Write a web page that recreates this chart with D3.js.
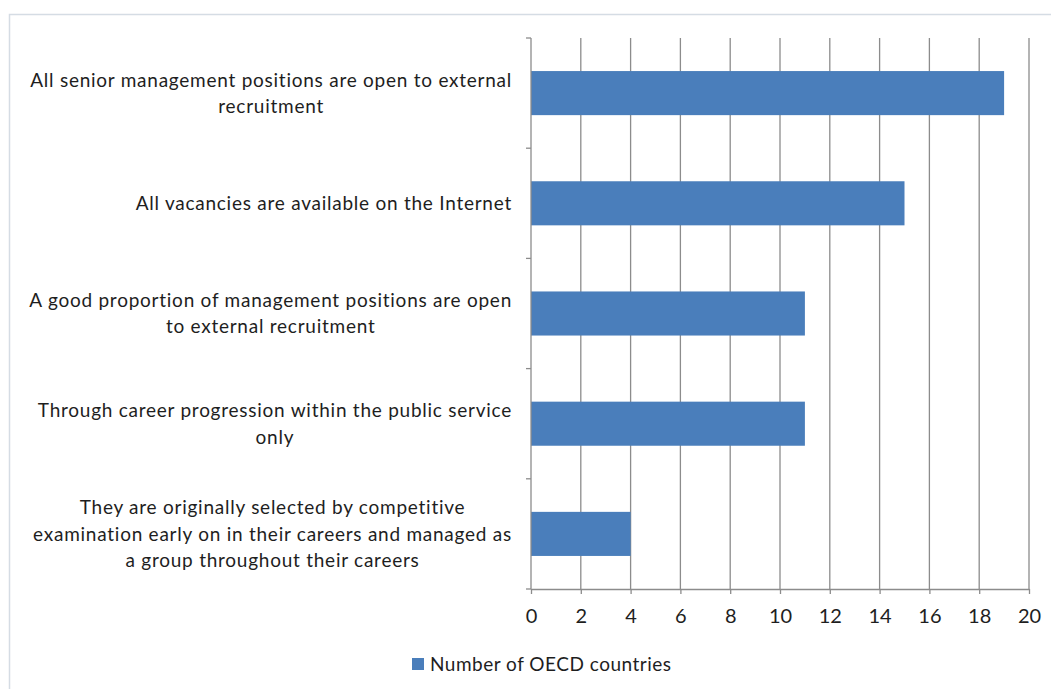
<!DOCTYPE html>
<html>
<head>
<meta charset="utf-8">
<script src="https://cdn.jsdelivr.net/npm/d3@7"></script>
<style>
  html, body { margin: 0; padding: 0; background: #fff; }
  svg { display: block; }
  text { font-family: Lato, "Open Sans", sans-serif; fill: #1e1e1e; }
</style>
</head>
<body>
<svg id="chart" width="1051" height="689"></svg>
<script>
// Ways into senior management, count of OECD countries
const categories = [
  ["All senior management positions are open to external", "recruitment"],
  ["All vacancies are available on the Internet"],
  ["A good proportion of management positions are open", "to external recruitment"],
  ["Through career progression within the public service", "only"],
  ["They are originally selected by competitive", "examination early on in their careers and managed as", "a group throughout their careers"]
];
const values = [19, 15, 11, 11, 4];
const xTicks = [0, 2, 4, 6, 8, 10, 12, 14, 16, 18, 20];
const seriesName = "Number of OECD countries";

const svg = d3.select("#chart");
const W = 1051, H = 689;
const m = { left: 531, top: 38 };
const barColor = "#4A7EBB";
const gridColor = "#8c8c8c";
const fontSize = 19;
const spacing = "0.75px";

// outer frame
svg.append("rect")
  .attr("x", 9.5).attr("y", 14.5)
  .attr("width", W + 10).attr("height", H + 10)
  .attr("fill", "none").attr("stroke", "#d5dce4").attr("stroke-width", 1.5);

const x = d3.scaleLinear().domain([0, 20]).range([m.left, 1029]);
const y = d3.scaleBand().domain(d3.range(categories.length))
  .range([m.top, 589]).paddingInner(0.6).paddingOuter(0.3);
const step = y.step();

// vertical gridlines
svg.append("g").selectAll("line").data(xTicks.slice(1)).join("line")
  .attr("x1", d => x(d)).attr("x2", d => x(d))
  .attr("y1", m.top).attr("y2", 589)
  .attr("stroke", gridColor).attr("stroke-width", 1.3);

// bars
svg.append("g").selectAll("rect").data(values).join("rect")
  .attr("x", x(0))
  .attr("y", (d, i) => y(i))
  .attr("width", d => x(d) - x(0))
  .attr("height", y.bandwidth())
  .attr("fill", barColor);

// category axis with ticks at band boundaries
const bounds = d3.range(categories.length + 1).map(i => m.top + i * step);
const yAxis = svg.append("g");
yAxis.append("line")
  .attr("x1", x(0)).attr("x2", x(0)).attr("y1", m.top).attr("y2", 589)
  .attr("stroke", gridColor).attr("stroke-width", 1.3);
yAxis.selectAll("line.tick").data(bounds).join("line").attr("class", "tick")
  .attr("x1", x(0) - 5).attr("x2", x(0)).attr("y1", d => d).attr("y2", d => d)
  .attr("stroke", gridColor).attr("stroke-width", 1.3);

// value axis
const xAxis = svg.append("g").attr("transform", "translate(0,589)")
  .call(d3.axisBottom(x).tickValues(xTicks).tickSize(5).tickPadding(15).tickSizeOuter(0));
xAxis.select(".domain").attr("stroke", gridColor).attr("stroke-width", 1.3);
xAxis.selectAll(".tick line").attr("stroke", gridColor).attr("stroke-width", 1.3);
xAxis.selectAll(".tick text")
  .style("font-family", "Lato, 'Open Sans', sans-serif")
  .style("font-size", "20px").attr("fill", "#1e1e1e");

// category labels: lines centred within a block whose right edge sits at 512
const lineH = 26.5;
const labels = svg.append("g");
categories.forEach((lines, i) => {
  const g = labels.append("g");
  const cy = y(i) + y.bandwidth() / 2;
  const t = g.append("text")
    .attr("text-anchor", "middle")
    .style("font-size", fontSize + "px")
    .style("letter-spacing", spacing);
  lines.forEach((ln, k) => {
    t.append("tspan")
      .attr("x", 0)
      .attr("y", cy + (k - (lines.length - 1) / 2) * lineH)
      .attr("dy", "0.35em")
      .text(ln);
  });
  const bw = t.node().getBBox().width;
  g.attr("transform", `translate(${512 - bw / 2},0)`);
});

// legend
const leg = svg.append("g").attr("transform", "translate(412,664)");
leg.append("rect").attr("x", 0).attr("y", -6).attr("width", 12).attr("height", 12).attr("fill", barColor);
leg.append("text").attr("x", 18).attr("dy", "0.35em")
  .style("font-size", fontSize + "px").style("letter-spacing", "0.5px").text(seriesName);
</script>
</body>
</html>
